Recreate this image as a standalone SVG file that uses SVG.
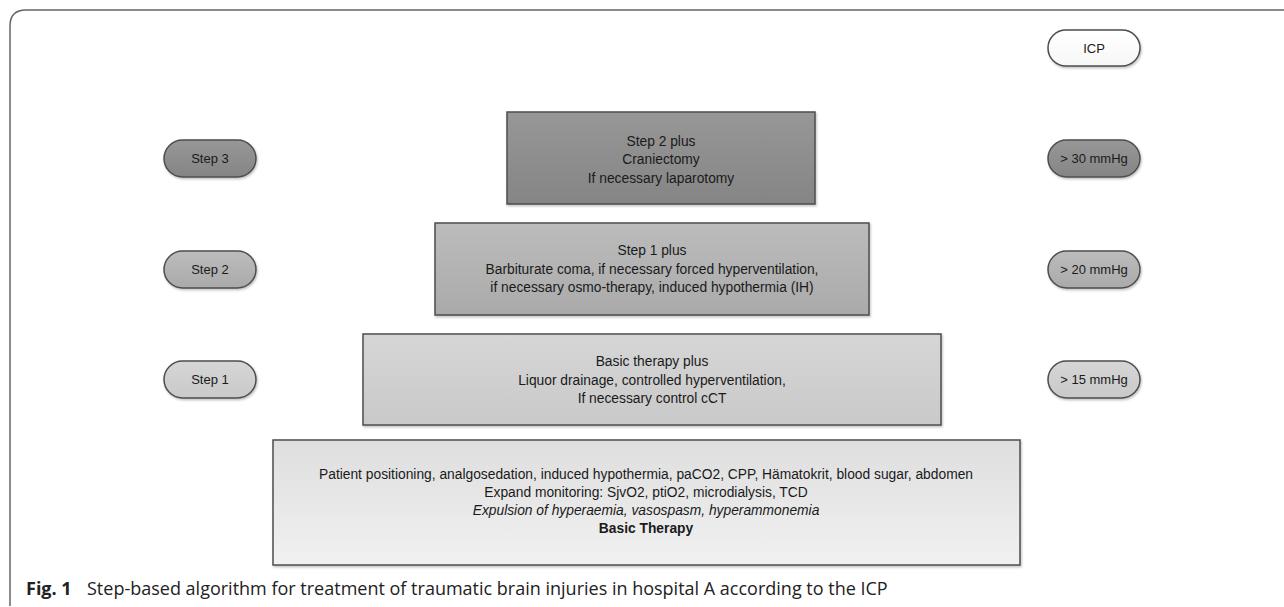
<svg xmlns="http://www.w3.org/2000/svg" width="1284" height="607" viewBox="0 0 1284 607">
<style>
.t{font-family:"Liberation Sans",Arial,sans-serif;font-size:13.8px;fill:#1a1a1a;text-anchor:middle}
.p{font-family:"Liberation Sans",Arial,sans-serif;font-size:13px;fill:#1a1a1a;text-anchor:middle}
.box{stroke:#4d4d4d;stroke-width:1.5}
.cap{font-family:"Open Sans","Liberation Sans",sans-serif;font-size:18px;fill:#222}
</style>
<defs>
<linearGradient id="g3" x1="0" y1="0" x2="0" y2="1"><stop offset="0" stop-color="#979797"/><stop offset="1" stop-color="#858585"/></linearGradient>
<linearGradient id="g2" x1="0" y1="0" x2="0" y2="1"><stop offset="0" stop-color="#bcbcbc"/><stop offset="1" stop-color="#aaaaaa"/></linearGradient>
<linearGradient id="g1" x1="0" y1="0" x2="0" y2="1"><stop offset="0" stop-color="#d6d6d6"/><stop offset="1" stop-color="#c9c9c9"/></linearGradient>
<linearGradient id="g0" x1="0" y1="0" x2="0" y2="1"><stop offset="0" stop-color="#dedede"/><stop offset="1" stop-color="#f1f1f1"/></linearGradient>
<linearGradient id="gw" x1="0" y1="0" x2="0" y2="1"><stop offset="0" stop-color="#ffffff"/><stop offset="1" stop-color="#f7f7f7"/></linearGradient>
<filter id="sh" x="-10%" y="-10%" width="130%" height="140%"><feDropShadow dx="1" dy="1.5" stdDeviation="1.2" flood-color="#000" flood-opacity="0.25"/></filter>
</defs>
<rect width="1284" height="607" fill="#ffffff"/>
<path d="M10,606 L10,26 Q10,10 26,10 L1284,10" fill="none" stroke="#666" stroke-width="1.5"/>
<g id="connectors"/>
<g id="icp">
<rect class="box" x="1048" y="30" width="92" height="36" rx="18" fill="url(#gw)" filter="url(#sh)"/>
<text class="p" x="1094" y="52.5">ICP</text>
</g>
<g id="step3">
<rect class="box" x="164" y="140" width="92" height="37" rx="18.5" fill="url(#g3)" filter="url(#sh)"/>
<text class="p" x="210" y="163">Step 3</text>
</g>
<g id="icp30">
<rect class="box" x="1048" y="140" width="92" height="37" rx="18.5" fill="url(#g3)" filter="url(#sh)"/>
<text class="p" x="1094" y="163">&gt; 30 mmHg</text>
</g>
<g id="step2">
<rect class="box" x="164" y="251" width="92" height="37" rx="18.5" fill="url(#g2)" filter="url(#sh)"/>
<text class="p" x="210" y="274">Step 2</text>
</g>
<g id="icp20">
<rect class="box" x="1048" y="251" width="92" height="37" rx="18.5" fill="url(#g2)" filter="url(#sh)"/>
<text class="p" x="1094" y="274">&gt; 20 mmHg</text>
</g>
<g id="step1">
<rect class="box" x="164" y="361" width="92" height="37" rx="18.5" fill="url(#g1)" filter="url(#sh)"/>
<text class="p" x="210" y="384">Step 1</text>
</g>
<g id="icp15">
<rect class="box" x="1048" y="361" width="92" height="37" rx="18.5" fill="url(#g1)" filter="url(#sh)"/>
<text class="p" x="1094" y="384">&gt; 15 mmHg</text>
</g>
<g id="box3">
<rect class="box" x="507" y="112" width="308" height="92" fill="url(#g3)" filter="url(#sh)"/>
<text class="t" x="661" y="145.5">Step 2 plus</text>
<text class="t" x="661" y="164">Craniectomy</text>
<text class="t" x="661" y="182.5">If necessary laparotomy</text>
</g>
<g id="box2">
<rect class="box" x="435" y="223" width="434" height="92" fill="url(#g2)" filter="url(#sh)"/>
<text class="t" x="652" y="255">Step 1 plus</text>
<text class="t" x="652" y="273.5">Barbiturate coma, if necessary forced hyperventilation,</text>
<text class="t" x="652" y="292">if necessary osmo-therapy, induced hypothermia (IH)</text>
</g>
<g id="box1">
<rect class="box" x="363" y="334" width="578" height="91" fill="url(#g1)" filter="url(#sh)"/>
<text class="t" x="652" y="366">Basic therapy plus</text>
<text class="t" x="652" y="384.5">Liquor drainage, controlled hyperventilation,</text>
<text class="t" x="652" y="403">If necessary control cCT</text>
</g>
<g id="box0">
<rect class="box" x="273" y="440" width="747" height="125" fill="url(#g0)" filter="url(#sh)"/>
<text class="t" x="646" y="478.5">Patient positioning, analgosedation, induced hypothermia, paCO2, CPP, Hämatokrit, blood sugar, abdomen</text>
<text class="t" x="646" y="496.5">Expand monitoring: SjvO2, ptiO2, microdialysis, TCD</text>
<text class="t" x="646" y="514.5" font-style="italic">Expulsion of hyperaemia, vasospasm, hyperammonemia</text>
<text class="t" x="646" y="532.5" font-weight="bold">Basic Therapy</text>
</g>
<text class="cap" x="26" y="595" font-weight="bold">Fig. 1</text>
<text class="cap" x="87" y="595">Step-based algorithm for treatment of traumatic brain injuries in hospital A according to the ICP</text>
</svg>
